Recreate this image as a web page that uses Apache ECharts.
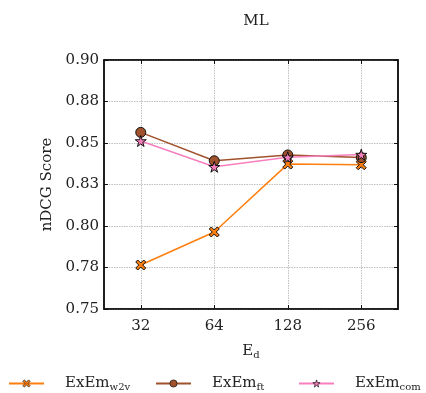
<!DOCTYPE html>
<html>
<head>
<meta charset="utf-8">
<script src="https://cdn.jsdelivr.net/npm/echarts@6/dist/echarts.min.js"></script>
<style>
  html, body { margin: 0; padding: 0; background: #fff; }
  #chart { width: 426px; height: 393px; }
</style>
</head>
<body>
<div id="chart"></div>
<script>
var categories = ['32', '64', '128', '256'];
var w2vScores = [0.7765, 0.7964, 0.8373, 0.8369];
var ftScores = [0.8564, 0.8393, 0.8428, 0.8412];
var comScores = [0.8512, 0.8357, 0.8414, 0.8430];
var yTickLabels = ['0.75', '0.78', '0.80', '0.83', '0.85', '0.88', '0.90'];

var FONT = 'DejaVu Serif';
var xShape = 'path://M2,0 L5,3 L8,0 L10,2 L7,5 L10,8 L8,10 L5,7 L2,10 L0,8 L3,5 L0,2 Z';
var starShape = 'path://M50,0 L61,35 L98,35 L68,57 L79,91 L50,70 L21,91 L32,57 L2,35 L39,35 Z';

var subRich = {
    b: { fontFamily: FONT, fontSize: 15, color: '#222' },
    s: { fontFamily: FONT, fontSize: 10, color: '#222', verticalAlign: 'bottom', padding: [8, 0, 0, 0] }
};

function legendAt(name, left) {
    return {
        data: [name],
        left: left,
        top: 376,
        padding: 0,
        itemWidth: 35,
        itemHeight: 9,
        symbolKeepAspect: true,
        itemStyle: { borderWidth: 0.7 },
        formatter: function(n) {
            var sub = n.replace('ExEm_', '');
            return '{b|ExEm}{s|' + sub + '}';
        },
        textStyle: { fontFamily: FONT, fontSize: 15, color: '#222', padding: [0, 0, 0, 16], rich: subRich }
    };
}

var splitStyle = { show: true, alignWithLabel: true, lineStyle: { color: '#c0c0c0', type: [1.5, 1], width: 1 } };

var option = {
    animation: false,
    backgroundColor: '#fff',
    title: {
        text: 'ML',
        left: 251,
        textAlign: 'center',
        top: 9,
        textStyle: { fontFamily: FONT, fontSize: 15, fontWeight: 'normal', color: '#222' }
    },
    legend: [
        legendAt('ExEm_w2v', 8),
        legendAt('ExEm_ft', 155),
        legendAt('ExEm_com', 298)
    ],
    grid: {
        left: 104, right: 28, top: 60, bottom: 84,
        show: true, borderColor: '#111', borderWidth: 1.5
    },
    xAxis: [
        {
            type: 'category',
            data: categories,
            boundaryGap: true,
            name: '{b|E}{s|d}',
            nameLocation: 'middle',
            nameGap: 33,
            nameTextStyle: { fontFamily: FONT, fontSize: 15, color: '#222', rich: subRich },
            axisLine: { show: true, lineStyle: { color: '#111', width: 1.5 } },
            axisTick: { show: true, inside: true, alignWithLabel: true, length: 4, lineStyle: { color: '#111' } },
            axisLabel: { fontFamily: FONT, fontSize: 15, color: '#222', margin: 10 },
            splitLine: splitStyle
        },
        {
            type: 'category',
            data: categories,
            position: 'top',
            boundaryGap: true,
            axisLine: { show: true, lineStyle: { color: '#111', width: 1.5 } },
            axisTick: { show: true, inside: true, alignWithLabel: true, length: 4, lineStyle: { color: '#111' } },
            axisLabel: { show: false },
            splitLine: { show: false }
        }
    ],
    yAxis: [
        {
            type: 'value',
            min: 0.75,
            max: 0.90,
            interval: 0.025,
            name: 'nDCG Score',
            nameLocation: 'middle',
            nameGap: 47,
            nameTextStyle: { fontFamily: FONT, fontSize: 15, color: '#222' },
            axisLine: { show: true, lineStyle: { color: '#111', width: 1.5 } },
            axisTick: { show: true, inside: true, length: 4, lineStyle: { color: '#111' } },
            axisLabel: {
                fontFamily: FONT, fontSize: 15, color: '#222', margin: 5,
                formatter: function(v) {
                    return yTickLabels[Math.round((v - 0.75) / 0.025)];
                }
            },
            splitLine: { show: true, lineStyle: { color: '#c0c0c0', type: [1.5, 1], width: 1 } }
        },
        {
            type: 'value',
            min: 0.75,
            max: 0.90,
            interval: 0.025,
            position: 'right',
            axisLine: { show: true, lineStyle: { color: '#111', width: 1.5 } },
            axisTick: { show: true, inside: true, length: 4, lineStyle: { color: '#111' } },
            axisLabel: { show: false },
            splitLine: { show: false }
        }
    ],
    series: [
        {
            name: 'ExEm_w2v',
            type: 'line',
            data: w2vScores,
            symbol: xShape,
            symbolSize: 10,
            lineStyle: { color: '#ff7f0e', width: 1.5 },
            itemStyle: { color: '#ff7f0e', borderColor: '#111', borderWidth: 1 }
        },
        {
            name: 'ExEm_ft',
            type: 'line',
            data: ftScores,
            symbol: 'circle',
            symbolSize: 10,
            lineStyle: { color: '#a0522d', width: 1.5 },
            itemStyle: { color: '#a0522d', borderColor: '#111', borderWidth: 1 }
        },
        {
            name: 'ExEm_com',
            type: 'line',
            data: comScores,
            symbol: starShape,
            symbolSize: 11,
            lineStyle: { color: '#f77fbe', width: 1.5 },
            itemStyle: { color: '#f77fbe', borderColor: '#111', borderWidth: 1 }
        }
    ]
};

var myChart = echarts.init(document.getElementById('chart'), null, { renderer: 'canvas' });
myChart.setOption(option);
</script>
</body>
</html>
